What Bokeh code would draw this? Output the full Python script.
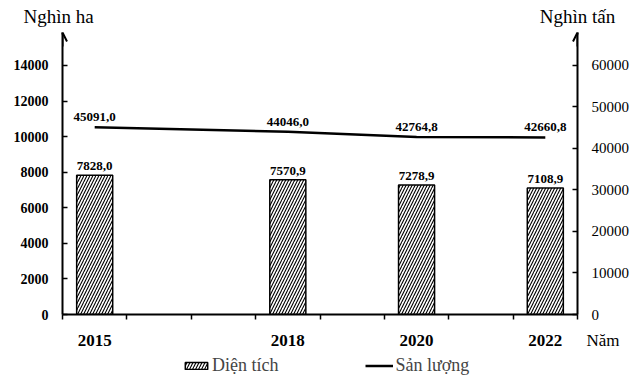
from bokeh.plotting import figure
from bokeh.layouts import column, row
from bokeh.models import (ColumnDataSource, LinearAxis, Range1d, FixedTicker,
                          Arrow, OpenHead, Legend, LegendItem)
from bokeh.core.properties import value
from bokeh.embed import file_html
from bokeh.resources import INLINE

years = [2015, 2018, 2020, 2022]
year_labels = ["2015", "2018", "2020", "2022"]
dien_tich = [7828.0, 7570.9, 7278.9, 7108.9]      # nghìn ha
san_luong = [45091.0, 44046.0, 42764.8, 42660.8]  # nghìn tấn
left_ticks = [0, 2000, 4000, 6000, 8000, 10000, 12000, 14000]
right_ticks = [0, 10000, 20000, 30000, 40000, 50000, 60000]

FONT = "Liberation Serif"
W = 639
BL, BR = 62, 62                  # side borders of the main plot
TOP_H, MAIN_H, BOT_H = 32, 291, 62
Y_TOP = 15855
RATIO = 60000 / 14000
X0, X1 = 2014.5, 2022.5
PX = (X1 - X0) / (W - BL - BR)   # data units per pixel along x
XR_FULL = (X0 - BL * PX, X1 + BR * PX)


def fmt(v):
    return f"{v:.1f}".replace(".", ",")


src = ColumnDataSource(dict(
    year=years,
    area=dien_tich,
    prod_scaled=[v / RATIO for v in san_luong],
    prod=san_luong,
    area_lbl=[fmt(v) for v in dien_tich],
    prod_lbl=[fmt(v) for v in san_luong],
))


def bare(height):
    f = figure(width=W, height=height, output_backend="svg", toolbar_location=None,
               x_range=Range1d(*XR_FULL), y_range=Range1d(0, height),
               min_border=0, min_border_left=0, min_border_right=0,
               min_border_top=0, min_border_bottom=0,
               x_axis_location=None, y_axis_location=None)
    f.xgrid.visible = False
    f.ygrid.visible = False
    f.outline_line_color = None
    return f


# ---------- top row: axis titles ----------
ft = bare(TOP_H)
ft.text(x=[X0], y=[TOP_H / 2], text=["Nghìn ha"], text_font=value(FONT),
        text_font_size="19px", text_align="center", text_baseline="middle", x_offset=-4)
ft.text(x=[X1], y=[TOP_H / 2], text=["Nghìn tấn"], text_font=value(FONT),
        text_font_size="19px", text_align="center", text_baseline="middle")

# ---------- main plot ----------
p = figure(width=W, height=MAIN_H, output_backend="svg", toolbar_location=None,
           x_range=Range1d(X0, X1), y_range=Range1d(0, Y_TOP),
           min_border_left=BL, min_border_right=BR, min_border_top=0, min_border_bottom=9,
           x_axis_location=None, y_axis_location=None)
p.xgrid.visible = False
p.ygrid.visible = False
p.outline_line_color = None
p.extra_y_ranges = {"right": Range1d(0, Y_TOP * RATIO)}

bar_style = dict(fill_color="white", line_color="black", line_width=1.5,
                 hatch_pattern="right_diagonal_line", hatch_color="black",
                 hatch_scale=6, hatch_weight=1.1)
line_style = dict(line_color="black", line_width=2.5)
p.vbar(x="year", top="area", width=0.56, source=src, **bar_style)
p.line(x="year", y="prod_scaled", source=src, **line_style)

p.text(x="year", y="area", text="area_lbl", source=src, text_font=value(FONT),
       text_font_style="bold", text_font_size="13px", text_align="center",
       text_baseline="bottom", y_offset=-5)
p.text(x="year", y="prod_scaled", text="prod_lbl", source=src, text_font=value(FONT),
       text_font_style="bold", text_font_size="13px", text_align="center",
       text_baseline="bottom", y_offset=-6)

xax = LinearAxis(ticker=FixedTicker(ticks=[X0 + i for i in range(9)], minor_ticks=[]))
xax.axis_line_width = 2
xax.major_tick_in = 0
xax.major_tick_out = 5
xax.major_tick_line_width = 1.5
xax.major_label_text_font_size = "1px"
xax.major_label_text_alpha = 0
xax.major_label_standoff = 0
p.add_layout(xax, "below")

lax = LinearAxis(ticker=FixedTicker(ticks=left_ticks, minor_ticks=[]))
lax.axis_line_width = 2
lax.major_tick_in = 5
lax.major_tick_out = 0
lax.major_tick_line_width = 1.5
lax.major_label_standoff = 14
lax.major_label_text_font = FONT
lax.major_label_text_font_style = "bold"
lax.major_label_text_font_size = "14px"
lax.major_label_text_color = "black"
p.add_layout(lax, "left")

rax = LinearAxis(y_range_name="right", ticker=FixedTicker(ticks=right_ticks, minor_ticks=[]))
rax.axis_line_width = 2
rax.major_tick_in = 5
rax.major_tick_out = 0
rax.major_tick_line_width = 1.5
rax.major_label_standoff = 14
rax.major_label_text_font = FONT
rax.major_label_text_font_size = "15px"
rax.major_label_text_color = "black"
p.add_layout(rax, "right")

for xv in (X0, X1):
    p.add_layout(Arrow(end=OpenHead(size=9, line_width=2), x_start=xv, x_end=xv,
                       y_start=Y_TOP * 0.95, y_end=Y_TOP, line_width=2))

# ---------- bottom row: year labels, x title, legend ----------
fb = bare(BOT_H)
fb.text(x=years, y=[BOT_H - 17] * len(years), text=year_labels, text_font=value(FONT),
        text_font_style="bold", text_font_size="17px", text_align="center",
        text_baseline="alphabetic")
fb.text(x=[X1], y=[BOT_H - 17], text=["Năm"], text_font=value(FONT),
        text_font_size="17px", text_align="left", text_baseline="alphabetic", x_offset=9)

# legend proxies (hidden renderers carrying the same styles)
leg_bar = fb.vbar(x="year", top="area", width=0.56, source=src, visible=False, **bar_style)
leg_line = fb.line(x="year", y="prod_scaled", source=src, visible=False, **line_style)
legend = Legend(items=[LegendItem(label="Diện tích", renderers=[leg_bar]),
                       LegendItem(label="Sản lượng", renderers=[leg_line])],
                orientation="horizontal", location=(182, 9),
                label_text_font=FONT, label_text_font_size="18px",
                glyph_width=28, glyph_height=9, label_standoff=2, spacing=87,
                padding=0, margin=0, border_line_color=None, background_fill_alpha=0,
                inactive_fill_alpha=0)
fb.add_layout(legend, "center")

layout = column(row(ft), p, row(fb), spacing=0)
open("out.html", "w").write(file_html(layout, INLINE))
